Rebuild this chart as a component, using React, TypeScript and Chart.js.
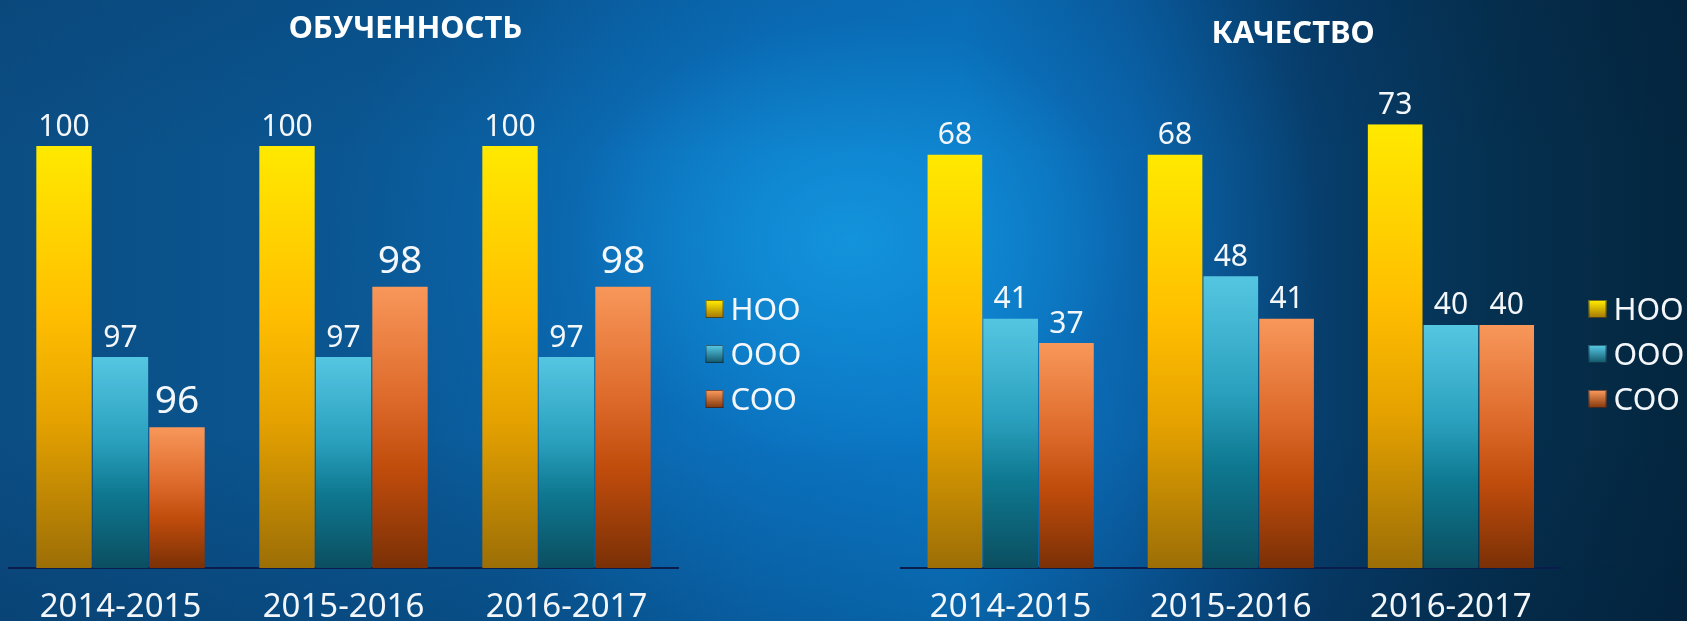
import React, { useEffect, useRef } from "react";
import { Chart, registerables } from "chart.js";

Chart.register(...registerables);

const categories = ["2014-2015", "2015-2016", "2016-2017"];
const seriesNames = ["НОО", "ООО", "СОО"];
const learnedNOO = [100, 100, 100];
const learnedOOO = [97, 97, 97];
const learnedSOO = [96, 98, 98];
const qualityNOO = [68, 68, 73];
const qualityOOO = [41, 48, 40];
const qualitySOO = [37, 41, 40];
const titleLearned = "ОБУЧЕННОСТЬ";
const titleQuality = "КАЧЕСТВО";

const FONT = "'Noto Sans', 'DejaVu Sans', sans-serif";

const gradStops: string[][] = [
  ["#FFE900", "#FFBE00", "#E5A200", "#9C6E06"],
  ["#55C6E2", "#2AA0BE", "#0E7890", "#0B4E60"],
  ["#F8975A", "#DD6A2A", "#C04C0C", "#7A3006"],
];
const solid = ["#F8BC00", "#1A8CA8", "#CC5814"];

function barGradient(ctx: any, si: number) {
  const chart = ctx.chart;
  if (ctx.type !== "data" || !chart.chartArea || !chart.scales.y) return solid[si];
  const y = chart.scales.y;
  const top = y.getPixelForValue(ctx.raw);
  const bottom = chart.chartArea.bottom;
  if (!isFinite(top) || bottom - top < 1) return solid[si];
  const g = chart.ctx.createLinearGradient(0, top, 0, bottom);
  const s = gradStops[si];
  g.addColorStop(0, s[0]);
  g.addColorStop(0.4, s[1]);
  g.addColorStop(0.65, s[2]);
  g.addColorStop(1, s[3]);
  return g;
}

const valueLabels = {
  id: "valueLabels",
  afterDatasetsDraw(chart: any) {
    const c = chart.ctx;
    chart.data.datasets.forEach((ds: any, di: number) => {
      const meta = chart.getDatasetMeta(di);
      const size = ds.labelSize || 30;
      c.save();
      c.font = `${size}px ${FONT}`;
      c.fillStyle = "#F4F7FA";
      c.textAlign = "center";
      c.textBaseline = "alphabetic";
      meta.data.forEach((el: any, i: number) => {
        c.fillText(String(ds.data[i]), el.x, el.y - (size > 34 ? 14 : 10.5));
      });
      c.restore();
    });
  },
};

const panelDecor = {
  id: "panelDecor",
  afterDraw(chart: any, _args: any, opts: any) {
    const c = chart.ctx;
    c.save();
    c.font = `bold 31px ${FONT}`;
    c.fillStyle = "#FFFFFF";
    c.textAlign = "center";
    c.textBaseline = "middle";
    c.fillText(opts.title, opts.titleX, opts.titleY);
    c.restore();
    const x0 = chart.chartArea.right + 27.5;
    const ys = [310, 355, 400];
    chart.data.datasets.forEach((ds: any, di: number) => {
      const yc = ys[di];
      const s = gradStops[di];
      const g = c.createLinearGradient(0, yc - 9, 0, yc + 9);
      g.addColorStop(0, s[0]);
      g.addColorStop(1, s[3]);
      c.save();
      c.fillStyle = g;
      c.fillRect(x0, yc - 10, 18, 18);
      c.strokeStyle = "rgba(20,30,50,0.6)";
      c.lineWidth = 1;
      c.strokeRect(x0 + 0.5, yc - 9.5, 17, 17);
      c.font = `31px ${FONT}`;
      c.fillStyle = "#F4F7FA";
      c.textAlign = "left";
      c.textBaseline = "middle";
      c.fillText(ds.label, x0 + 25, yc + 1);
      c.restore();
    });
  },
};

type Cfg = {
  title: string;
  data: number[][];
  min: number;
  max: number;
  labelSizes: number[];
  padLeft: number;
  padRight: number;
  padTop: number;
  titleX: number;
  titleY: number;
  width: number;
};

const CANVAS_H = 648;

function BarPanel({ cfg, left }: { cfg: Cfg; left: number }) {
  const ref = useRef<HTMLCanvasElement | null>(null);
  useEffect(() => {
    if (!ref.current) return;
    const chart = new Chart(ref.current, {
      type: "bar",
      data: {
        labels: categories,
        datasets: cfg.data.map((d, si) => ({
          label: seriesNames[si],
          data: d,
          labelSize: cfg.labelSizes[si],
          backgroundColor: (ctx: any) => barGradient(ctx, si),
          borderWidth: 0,
          categoryPercentage: 0.76,
          barPercentage: 0.98,
        })) as any,
      },
      options: {
        animation: false,
        responsive: false,
        devicePixelRatio: 1,
        layout: { padding: { left: cfg.padLeft, right: cfg.padRight, top: cfg.padTop, bottom: 0 } },
        plugins: {
          legend: { display: false },
          tooltip: { enabled: false },
          title: { display: false },
          panelDecor: { title: cfg.title, titleX: cfg.titleX, titleY: cfg.titleY },
        } as any,
        scales: {
          x: {
            grid: { display: false, drawTicks: false },
            border: { display: true, color: "#0A1D4C", width: 2 },
            ticks: {
              color: "#F4F7FA",
              font: { family: FONT, size: 33, lineHeight: 1 },
              padding: 23.5,
            },
          },
          y: { display: false, min: cfg.min, max: cfg.max },
        },
      },
      plugins: [valueLabels, panelDecor],
    });
    return () => chart.destroy();
  }, []);
  return (
    <canvas
      ref={ref}
      width={cfg.width}
      height={CANVAS_H}
      style={{ position: "absolute", left, top: 0, width: cfg.width, height: CANVAS_H }}
    />
  );
}

const learnedCfg: Cfg = {
  title: titleLearned,
  data: [learnedNOO, learnedOOO, learnedSOO],
  min: 94,
  max: 100,
  labelSizes: [30, 30, 39],
  padLeft: 9,
  padRight: 133,
  padTop: 146,
  titleX: 405.5,
  titleY: 29,
  width: 811,
};

const qualityCfg: Cfg = {
  title: titleQuality,
  data: [qualityNOO, qualityOOO, qualitySOO],
  min: 0,
  max: 73,
  labelSizes: [30, 30, 30],
  padLeft: 1.6,
  padRight: 126,
  padTop: 124.3,
  titleX: 394,
  titleY: 34.5,
  width: 788,
};

export default function App() {
  useEffect(() => {
    document.body.style.margin = "0";
  }, []);
  return (
    <div
      style={{
        position: "fixed",
        left: 0,
        top: 0,
        width: 1687,
        height: 621,
        overflow: "hidden",
        background:
          "linear-gradient(180deg, rgba(0,20,50,0.10) 0%, rgba(0,20,50,0) 25%, rgba(0,20,50,0) 70%, rgba(0,20,50,0.18) 100%)," +
          "radial-gradient(ellipse 280px 220px at 850px 240px, rgba(20,152,222,0.85), rgba(20,152,222,0) 100%)," +
          "radial-gradient(ellipse 500px 420px at 830px 250px, rgba(12,122,204,0.7), rgba(12,122,204,0) 100%)," +
          "linear-gradient(90deg, #0B4E84 0%, #0A5A98 30%, #0A6CB6 45%, #0A76C2 57%, #0A5EA2 67%, #073E6C 78%, #05304F 89%, #04263F 100%)",
      }}
    >
      <BarPanel cfg={learnedCfg} left={0} />
      <BarPanel cfg={qualityCfg} left={899} />
    </div>
  );
}
